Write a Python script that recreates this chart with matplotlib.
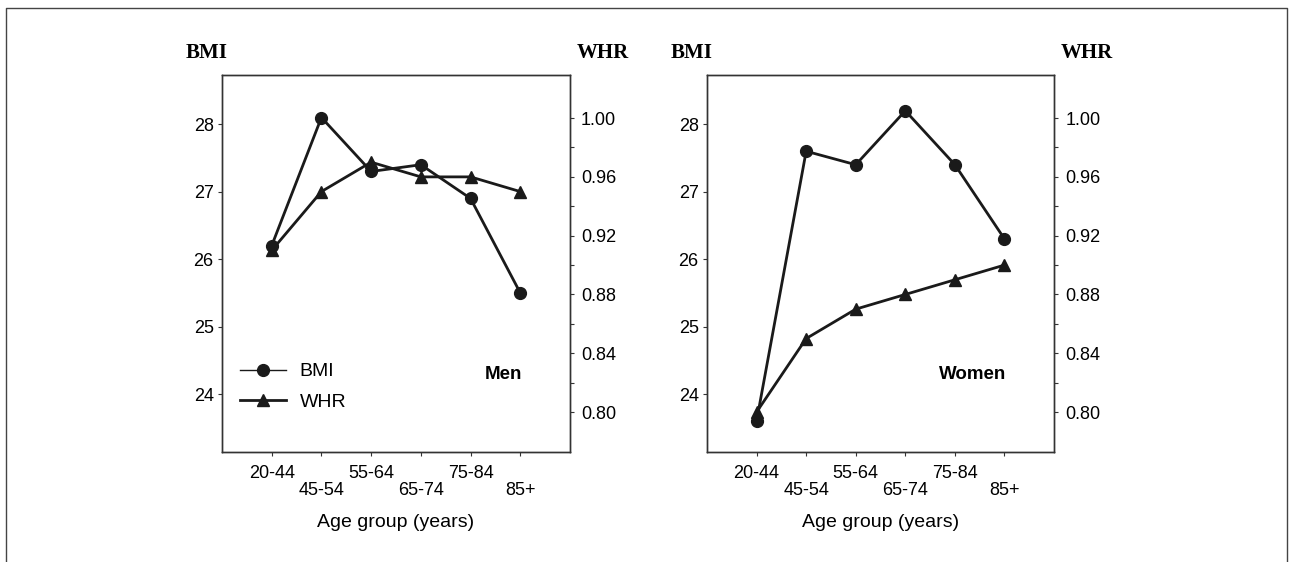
import numpy as np
import matplotlib
matplotlib.use("Agg")
from matplotlib import pyplot as plt
from matplotlib.lines import Line2D

# data
age_groups = ["20-44", "45-54", "55-64", "65-74", "75-84", "85+"]
men_bmi = [26.2, 28.1, 27.3, 27.4, 26.9, 25.5]
men_whr = [0.91, 0.95, 0.97, 0.96, 0.96, 0.95]
women_bmi = [23.6, 27.6, 27.4, 28.2, 27.4, 26.3]
women_whr = [0.80, 0.85, 0.87, 0.88, 0.89, 0.90]
bmi_ticks = [24, 25, 26, 27, 28]
whr_ticks = [0.80, 0.84, 0.88, 0.92, 0.96, 1.00]
whr_minor = [0.82, 0.86, 0.90, 0.94, 0.98]

plt.rcParams['font.family'] = ['Liberation Sans', 'DejaVu Sans']

fig = plt.figure(figsize=(12.93, 5.62), dpi=100)
ink = '#1a1a1a'


def panel(rect, bmi, whr, label, legend=False):
    ax = fig.add_axes(rect)
    ax2 = ax.twinx()
    x = np.arange(len(age_groups))

    ax.plot(x, bmi, color=ink, lw=2.0, marker='o', ms=8.5, zorder=3)
    ax2.plot(x, whr, color=ink, lw=2.0, marker='^', ms=8.5, zorder=3)

    ax.set_xlim(-1, 6)
    ax.set_ylim(23.14, 28.73)
    ax2.set_ylim(0.7728, 1.0293)

    ax.set_yticks(bmi_ticks)
    ax.set_yticklabels([str(t) for t in bmi_ticks])
    ax2.set_yticks(whr_ticks)
    ax2.set_yticklabels(["%.2f" % t for t in whr_ticks])
    ax2.set_yticks(whr_minor, minor=True)

    ax.set_xticks(x)
    ax.set_xticklabels([g if i % 2 == 0 else "\n" + g for i, g in enumerate(age_groups)])
    for t in ax.get_xticklabels():
        t.set_linespacing(1.05)
    ax.set_xlabel("Age group (years)", fontsize=14, labelpad=11)

    ax.tick_params(axis='x', labelsize=13, length=3, width=0.8, color='#333333', pad=6)
    ax.tick_params(axis='y', labelsize=13, length=3, width=0.8, color='#333333', pad=3)
    ax2.tick_params(axis='y', labelsize=13, length=3, width=0.8, color='#333333', pad=5)
    ax2.tick_params(axis='y', which='minor', length=3, width=0.8, color='#333333')
    for a in (ax, ax2):
        for s in a.spines.values():
            s.set_linewidth(1.0)
            s.set_color('#333333')

    ax.text(-0.105, 1.058, "BMI", transform=ax.transAxes, fontsize=15,
            fontweight='bold', family='Liberation Serif', va='center')
    ax.text(1.02, 1.058, "WHR", transform=ax.transAxes, fontsize=15,
            fontweight='bold', family='Liberation Serif', va='center')
    ax.text(0.862, 0.205, label, transform=ax.transAxes, fontsize=13.5,
            fontweight='bold', ha='right', va='center')

    if legend:
        h1 = Line2D([], [], color=ink, lw=1.0, marker='o', ms=8.5)
        h2 = Line2D([], [], color=ink, lw=2.0, marker='^', ms=8.5)
        ax.legend([h1, h2], ["BMI", "WHR"], loc='lower left',
                  bbox_to_anchor=(0.0, 0.062), frameon=False, fontsize=14,
                  handlelength=2.4, labelspacing=0.68, handletextpad=0.7)
    return ax


panel([0.1717, 0.1957, 0.2691, 0.6708], men_bmi, men_whr, "Men", legend=True)
panel([0.5468, 0.1957, 0.2684, 0.6708], women_bmi, women_whr, "Women")

# outer frame (open at the bottom)
frame_x = [6 / 1293, 6 / 1293, 1287 / 1293, 1287 / 1293]
frame_y = [0.0, 1 - 8 / 562, 1 - 8 / 562, 0.0]
fig.add_artist(Line2D(frame_x, frame_y, color='#444444', lw=1.0, transform=fig.transFigure))

fig.savefig("out.png", dpi=100, facecolor='white')
